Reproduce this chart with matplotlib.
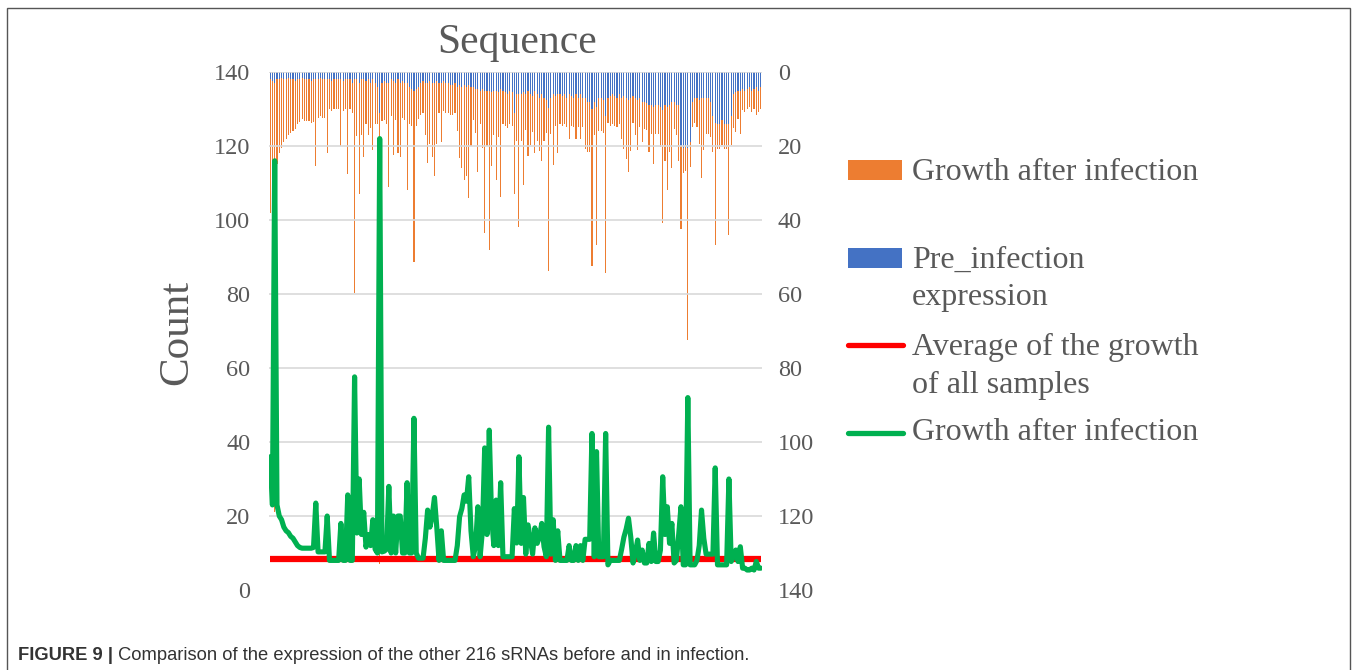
import numpy as np
import matplotlib
matplotlib.use("Agg")
import matplotlib.pyplot as plt
from matplotlib.patches import Rectangle
from matplotlib.lines import Line2D

# ---------------- data ----------------
growth = [
    36, 23, 116, 23, 20, 19, 17, 16,
    15.5, 14.5, 14, 13, 12, 11.5, 11.3, 11.3,
    11.3, 11.3, 11.3, 11.5, 23.5, 10.3, 10.3, 10.3,
    10.3, 20, 8, 8, 8, 8, 8, 18,
    8, 8, 25.7, 8, 8, 57.6, 15.4, 30,
    15, 21, 11.6, 15, 12, 19, 11, 10,
    122, 10.3, 10.5, 11, 28, 10, 20, 10,
    20, 20, 10, 10, 29, 10, 10, 46.4,
    10, 8.6, 8.6, 8.6, 14, 21.6, 17, 20,
    25, 17, 8, 16, 8, 8, 8, 8,
    8, 8, 12, 19.8, 22, 25.7, 24, 30.6,
    16, 9, 12, 22.5, 9, 16, 38.4, 15,
    43.2, 20, 12, 24.3, 12, 29, 9, 9,
    9, 9, 9, 22, 12.7, 36, 12.6, 25,
    9.7, 17.6, 13.7, 9.7, 16.8, 12.6, 14.3, 18,
    11.7, 9, 44, 9.7, 19, 8, 16, 8,
    8, 8, 8, 12, 8, 8, 12, 8,
    12, 8, 13.7, 13.7, 13.7, 42.3, 9, 37.4,
    9, 9, 9, 42.3, 6.8, 8, 8, 8,
    8, 8, 11, 14.3, 16.5, 19.4, 14.3, 7.3,
    10, 13.5, 8, 10.8, 7.3, 7.3, 12.6, 7.7,
    15.4, 7.7, 7.7, 10.8, 30.6, 15, 22.5, 12.6,
    18, 7.3, 8, 15, 22.5, 6.8, 6.8, 52,
    6.8, 6.8, 6.8, 8, 12, 21.6, 14, 9.7,
    9.7, 9.7, 9.7, 33, 6.8, 6.8, 6.8, 6.8,
    6.8, 30, 7.7, 9, 10.8, 7.7, 11.7, 5.9,
    5.9, 5.4, 5.4, 5.9, 5.4, 7.7, 5.9, 5.9,
]

pre_infection = [
    2, 2.5, 3, 2, 2, 1.5, 2, 2,
    1.5, 2, 2, 2.5, 2, 2, 1.5, 2,
    2, 2, 2.5, 2, 2, 2, 1.5, 2,
    2, 2, 2, 2.5, 2, 2, 2, 2,
    2.5, 2, 2, 2, 3, 2, 2, 3,
    2, 2, 2.5, 2, 3, 2, 3, 4,
    11, 3, 2.5, 3, 3, 2, 2.5, 3,
    2, 3, 2.5, 3, 3, 4, 4.5, 5,
    4.5, 4, 3, 2.5, 3, 3, 2.5, 3,
    3, 2.5, 3, 3, 2.5, 3, 3, 3.5,
    3.5, 3, 4, 3.5, 4, 3.5, 4, 3.5,
    4, 4, 4.5, 4.5, 5, 4.5, 5, 5,
    5, 5.5, 5, 5, 5.5, 4.7, 5, 5.5,
    6, 5, 5.5, 11, 6, 6, 6, 5.5,
    6, 5, 6, 6.5, 5, 6, 7, 6,
    7, 7.5, 9.7, 7, 6, 6.5, 6, 6,
    6.5, 6, 7, 6, 6.5, 7, 6, 7,
    6, 7, 7, 8, 8, 10, 8, 9.4,
    7, 7, 7.5, 12, 7, 6.5, 6, 6.5,
    7, 6, 7, 6.5, 7, 7.5, 7, 6.5,
    7, 7.5, 7, 8, 8, 8.5, 9, 9,
    9.5, 9, 9, 9.5, 10.3, 9, 9.5, 9,
    8, 8, 9, 9, 20, 20.5, 20, 20.5,
    19, 8, 7, 7, 7.5, 7, 7, 7,
    7, 8, 12, 13.8, 14, 14, 13, 14,
    14, 14, 12, 6, 5.5, 5, 5, 4.5,
    5, 4.5, 4, 5, 4.5, 4, 5, 4,
]

avg_growth = 8.3
left_ticks = [0, 20, 40, 60, 80, 100, 120, 140]
right_ticks = [0, 20, 40, 60, 80, 100, 120, 140]

title_text = "Sequence"
ylabel_text = "Count"
legend_labels = [
    ["Growth after infection"],
    ["Pre_infection", "expression"],
    ["Average of the growth", "of all samples"],
    ["Growth after infection"],
]
caption_bold = "FIGURE 9 |"
caption_text = " Comparison of the expression of the other 216 sRNAs before and in infection."

# ---------------- styling ----------------
ORANGE = "#ED7D31"
BLUE = "#4472C4"
RED = "#FF0000"
GREEN = "#00B050"
TXT = "#595959"
SERIF = ["Liberation Serif", "DejaVu Serif"]
SANS = ["Liberation Sans", "DejaVu Sans"]

W, H = 1357, 670
fig = plt.figure(figsize=(W / 100, H / 100), dpi=100)


def fx(px):
    return px / W


def fy(py):
    return 1 - py / H


ax = fig.add_axes([fx(269), fy(590), fx(762) - fx(269), fy(72) - fy(590)])
ax2 = ax.twinx()

x = np.arange(len(growth))

# bars on the inverted secondary axis (stacked: pre-infection then growth)
ax2.bar(x, pre_infection, width=0.5, color=BLUE, linewidth=0)
ax2.bar(x, growth, bottom=pre_infection, width=0.5, color=ORANGE, linewidth=0)
ax2.set_ylim(140, 0)
ax2.set_yticks(right_ticks)

ax.set_zorder(ax2.get_zorder() + 1)
ax.patch.set_visible(False)

ax.set_xlim(-0.5, len(x) - 0.5)
ax.set_ylim(0, 140)
ax.set_yticks(left_ticks)
ax.grid(axis="y", color="#D9D9D9", lw=1.2, zorder=0)
ax.set_axisbelow(True)
ax.yaxis.get_gridlines()[0].set_visible(False)

ax.plot(x, np.full(len(x), avg_growth), color=RED, lw=4.5, solid_capstyle="butt", zorder=3)
ax.plot(x, growth, color=GREEN, lw=3.7, solid_joinstyle="round",
        solid_capstyle="round", zorder=4)

for a in (ax, ax2):
    for s in a.spines.values():
        s.set_visible(False)
    a.set_xticks([])

ax.tick_params(axis="y", length=0, pad=13.5, labelsize=17.5, labelcolor=TXT)
ax2.tick_params(axis="y", length=0, pad=11.5, labelsize=17.5, labelcolor=TXT)
for lab in ax.get_yticklabels() + ax2.get_yticklabels():
    lab.set_family(SERIF)

# title and axis label
fig.text(fx(517), fy(43), title_text, ha="center", va="center",
         fontsize=30, color=TXT, family=SERIF)
fig.text(fx(177), fy(332), ylabel_text, ha="center", va="center", rotation=90,
         fontsize=31, color=TXT, family=SERIF)

# manual legend
fig.patches.append(Rectangle((fx(848), fy(180)), fx(902) - fx(848), fy(160) - fy(180),
                             transform=fig.transFigure, color=ORANGE, lw=0))
fig.patches.append(Rectangle((fx(848), fy(268)), fx(902) - fx(848), fy(248) - fy(268),
                             transform=fig.transFigure, color=BLUE, lw=0))
fig.lines.append(Line2D([fx(848), fx(903)], [fy(345), fy(345)], transform=fig.transFigure,
                        color=RED, lw=3.8, solid_capstyle="round"))
fig.lines.append(Line2D([fx(848), fx(903)], [fy(433), fy(433)], transform=fig.transFigure,
                        color=GREEN, lw=3.8, solid_capstyle="round"))

line_ys = [[172], [260, 298], [347, 385], [433]]
for labels, ys in zip(legend_labels, line_ys):
    for t, yy in zip(labels, ys):
        fig.text(fx(912), fy(yy), t, ha="left", va="center", fontsize=23,
                 color=TXT, family=SERIF)

# frame
fig.patches.append(Rectangle((fx(7), fy(675)), fx(1350) - fx(7), fy(8) - fy(675),
                             transform=fig.transFigure, fill=False, ec="#555555", lw=1.0))

# caption
cb = fig.text(fx(18), fy(655), caption_bold, ha="left", va="center", fontsize=13.2,
              fontweight="bold", color="#333333", family=SANS)
fig.canvas.draw()
bb = cb.get_window_extent()
fig.text(bb.x1 / W, fy(655), caption_text, ha="left", va="center", fontsize=13.2,
         color="#333333", family=SANS)

fig.savefig("out.png", dpi=100)
